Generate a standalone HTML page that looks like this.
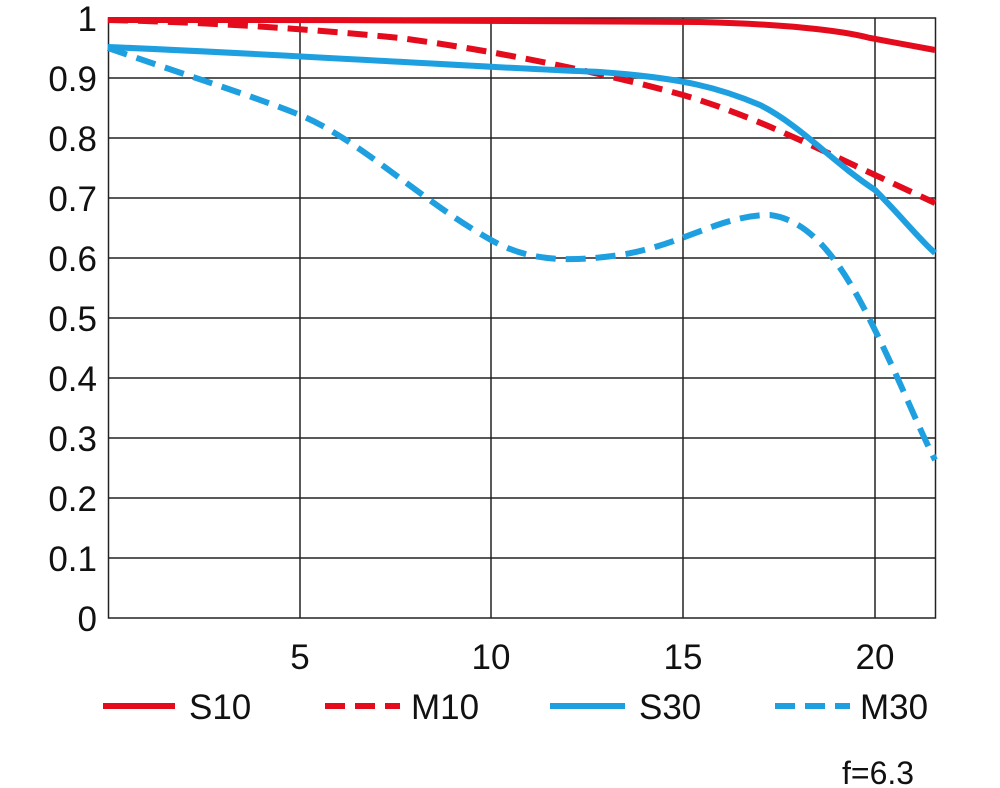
<!DOCTYPE html>
<html><head><meta charset="utf-8"><style>body{margin:0;background:#fff}svg{display:block}</style></head><body>
<svg width="1000" height="788" xmlns="http://www.w3.org/2000/svg" font-family="Liberation Sans, sans-serif">
<g stroke="#222" stroke-width="1.5" fill="none">
<rect x="108.5" y="18" width="827" height="600"/>
<line x1="108" x2="935" y1="78" y2="78"/><line x1="108" x2="935" y1="138" y2="138"/><line x1="108" x2="935" y1="198" y2="198"/><line x1="108" x2="935" y1="258" y2="258"/><line x1="108" x2="935" y1="318" y2="318"/><line x1="108" x2="935" y1="378" y2="378"/><line x1="108" x2="935" y1="438" y2="438"/><line x1="108" x2="935" y1="498" y2="498"/><line x1="108" x2="935" y1="558" y2="558"/>
<line x1="300" x2="300" y1="18" y2="618"/><line x1="491" x2="491" y1="18" y2="618"/><line x1="683" x2="683" y1="18" y2="618"/><line x1="875" x2="875" y1="18" y2="618"/>
</g>
<g font-size="35" fill="#111" text-anchor="end">
<text x="97" y="31">1</text><text x="97" y="91">0.9</text><text x="97" y="151">0.8</text><text x="97" y="211">0.7</text><text x="97" y="271">0.6</text><text x="97" y="331">0.5</text><text x="97" y="391">0.4</text><text x="97" y="451">0.3</text><text x="97" y="511">0.2</text><text x="97" y="571">0.1</text><text x="97" y="631">0</text>
</g>
<g font-size="35" fill="#111" text-anchor="middle">
<text x="300" y="669">5</text><text x="491" y="669">10</text><text x="683" y="669">15</text><text x="875" y="669">20</text>
</g>
<g fill="none" stroke-width="6">
<path d="M108,20 C300,20 600,20 700,22 C780,24 840,30 870,38 L935,50" stroke="#e30b1c"/>
<path d="M108,20 C200,22 300,28 400,38 C491,50 600,72 683,95 C750,115 800,140 875,175 L935,203" stroke="#e30b1c" stroke-dasharray="20,10"/>
<path d="M108,47 C300,55 491,68 600,72 C683,78 720,88 760,105 C800,125 830,160 875,190 C900,215 920,240 935,253" stroke="#1ea0e0"/>
<path d="M108,48 C200,80 250,95 300,115 C360,140 420,200 491,240 C530,262 570,262 620,255 C683,245 720,215 770,215 C810,220 840,260 870,320 C900,380 915,420 935,460" stroke="#1ea0e0" stroke-dasharray="20,10"/>
<line x1="103" x2="175" y1="706" y2="706" stroke="#e30b1c"/>
<line x1="325" x2="400" y1="706" y2="706" stroke="#e30b1c" stroke-dasharray="20,10"/>
<line x1="550" x2="625" y1="706" y2="706" stroke="#1ea0e0"/>
<line x1="775" x2="850" y1="706" y2="706" stroke="#1ea0e0" stroke-dasharray="20,10"/>
</g>
<g font-size="35" fill="#111">
<text x="189" y="719">S10</text><text x="411" y="719">M10</text><text x="639" y="719">S30</text><text x="860" y="719">M30</text>
<text x="842" y="784" font-size="32">f=6.3</text>
</g>
</svg>
</body></html>
